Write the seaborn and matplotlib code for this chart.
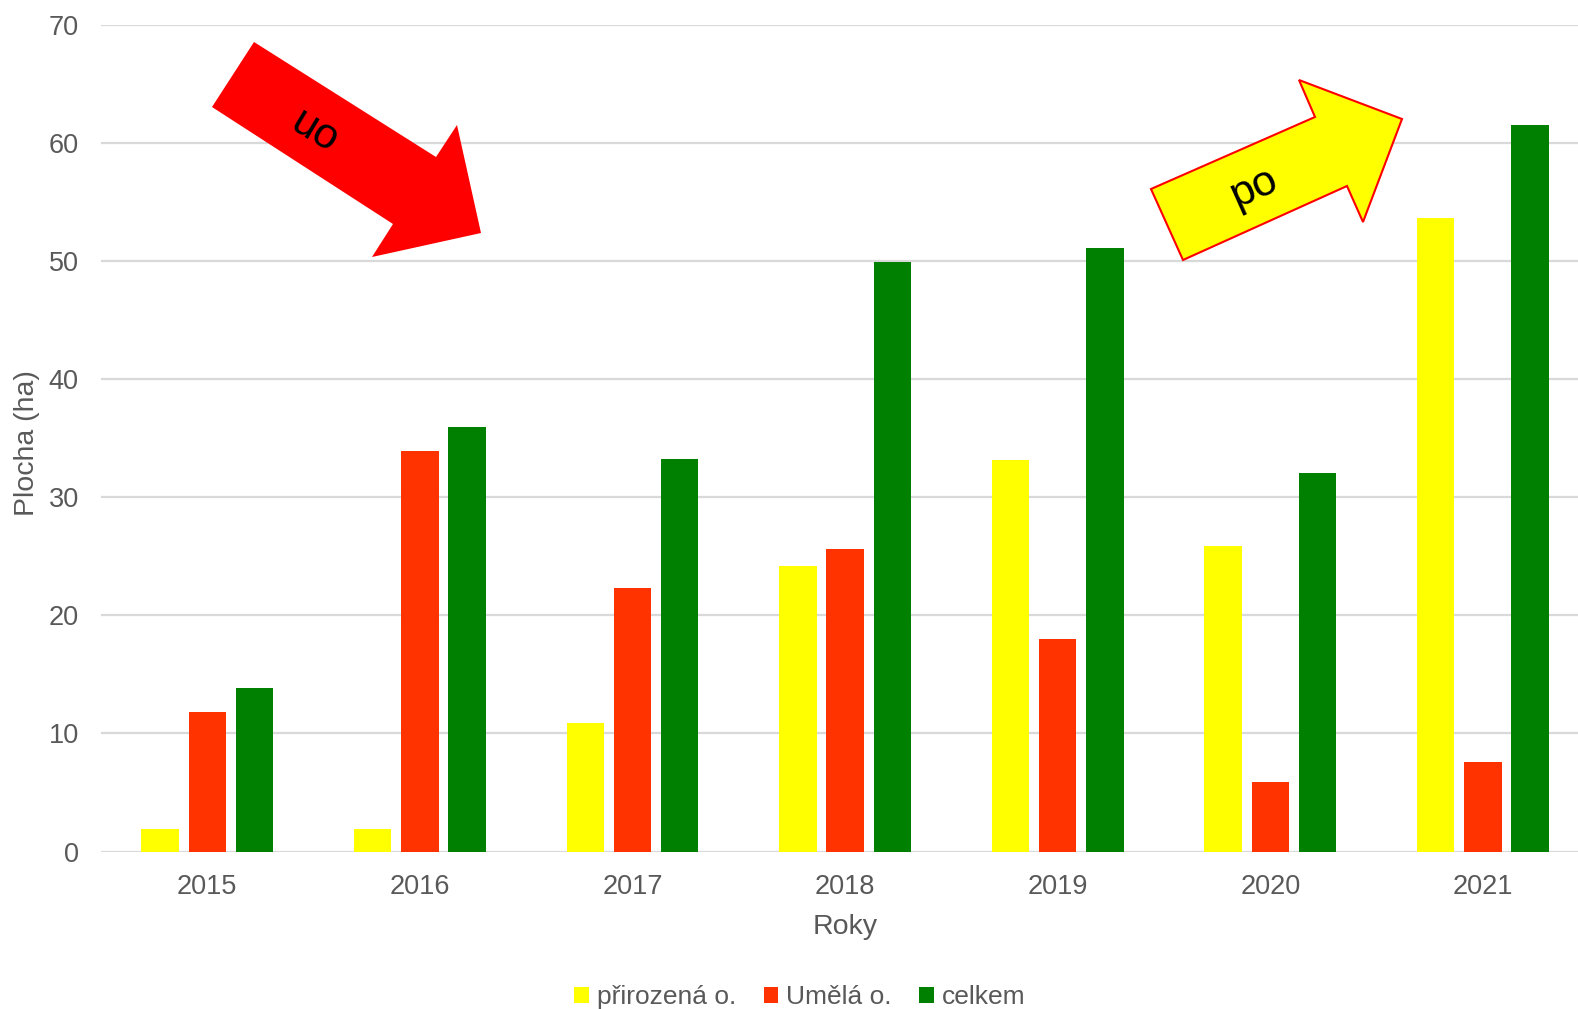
import matplotlib
matplotlib.use("Agg")
import matplotlib.pyplot as plt
import seaborn as sns
import pandas as pd
from matplotlib.patches import Polygon

years = ["2015", "2016", "2017", "2018", "2019", "2020", "2021"]
prirozena = [1.9, 1.9, 10.9, 24.2, 33.1, 25.9, 53.6]
umela = [11.8, 33.9, 22.3, 25.6, 18.0, 5.9, 7.6]
celkem = [13.8, 35.9, 33.2, 49.9, 51.1, 32.0, 61.5]
series_names = ["přirozená o.", "Umělá o.", "celkem"]
colors = ["#FFFF00", "#FF3300", "#008000"]

df = pd.DataFrame({
    "Rok": years * 3,
    "Hodnota": prirozena + umela + celkem,
    "Serie": [series_names[0]] * 7 + [series_names[1]] * 7 + [series_names[2]] * 7,
})

sns.set_theme(style="white")
plt.rcParams["font.family"] = ["Liberation Sans", "DejaVu Sans"]

W, H = 1578, 1009
left_px, step_px = 101.0, 212.6
fig = plt.figure(figsize=(W / 100, H / 100), dpi=100)
ax = fig.add_axes([left_px / W, 1 - 851.5 / H, 7 * step_px / W, (851.5 - 24.5) / H])

sns.barplot(data=df, x="Rok", y="Hodnota", hue="Serie", palette=colors,
            width=0.666, gap=0.21, ax=ax, legend=True, saturation=1,
            edgecolor="none")

ax.set_ylim(0, 70)
ax.set_xlim(-0.5, 6.5)
ax.set_yticks(range(0, 71, 10))
ax.yaxis.grid(True, color="#d9d9d9", linewidth=1.6)
ax.set_axisbelow(True)
for s in ax.spines.values():
    s.set_visible(False)
ax.tick_params(axis="both", labelsize=19.5, colors="#595959", length=0)
ax.tick_params(axis="y", pad=16)
ax.tick_params(axis="x", pad=16)
ax.set_xlabel("Roky", fontsize=20.5, color="#595959", labelpad=10)
ax.set_ylabel("Plocha (ha)", fontsize=20.5, color="#595959")
ax.yaxis.set_label_coords(-(left_px - 40) / (7 * step_px), (851.5 - 443) / (851.5 - 24.5))

handles, labels = ax.get_legend_handles_labels()
ax.get_legend().remove()
fig.legend(handles, labels, loc="center", bbox_to_anchor=(800 / W, 1 - 997 / H),
           ncol=3, frameon=False, fontsize=19, labelcolor="#595959",
           handlelength=0.55, handleheight=0.55, handletextpad=0.3, columnspacing=1.05)

# decorative arrows in figure pixel coordinates
def px(pts):
    return [(x / W, 1 - y / H) for x, y in pts]

red_arrow = [(254, 42), (436, 157), (457, 125), (481, 233), (372, 257), (393, 224), (212, 107)]
fig.patches.append(Polygon(px(red_arrow), closed=True, facecolor="#FF0000",
                           edgecolor="none", transform=fig.transFigure, zorder=5))
yellow_arrow = [(1151, 189), (1315, 117), (1299, 80), (1402, 119), (1363, 222), (1347, 186), (1183, 260)]
fig.patches.append(Polygon(px(yellow_arrow), closed=True, facecolor="#FFFF00",
                           edgecolor="#FF0000", linewidth=1.5, transform=fig.transFigure, zorder=5))

fig.text(314 / W, 1 - 132 / H, "uo", fontsize=31, rotation=-31, ha="center", va="center",
         color="black", zorder=6)
fig.text(1254 / W, 1 - 188 / H, "po", fontsize=31, rotation=24, ha="center", va="center",
         color="black", zorder=6)

fig.savefig("out.png", dpi=100)
